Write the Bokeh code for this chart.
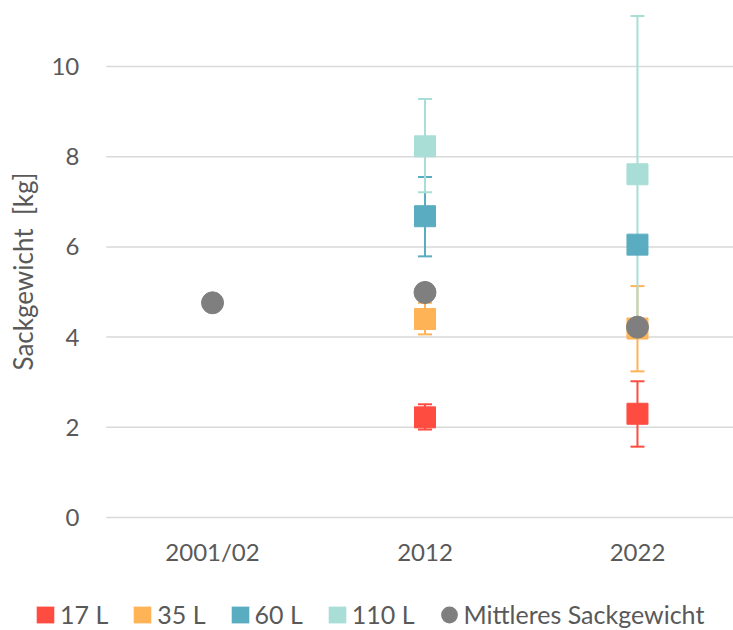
import math
from bokeh.plotting import figure
from bokeh.models import Range1d, FixedTicker, Legend, LegendItem
from bokeh.embed import file_html
from bokeh.resources import INLINE

nan = float("nan")

categories = ["2001/02", "2012", "2022"]
size_labels = ["17 L", "35 L", "60 L", "110 L"]
mean_label = "Mittleres Sackgewicht"
y_label = "Sackgewicht\u00a0\u00a0[kg]"

w17 = [nan, 2.22, 2.30]
w17_lo = [nan, 1.95, 1.57]
w17_hi = [nan, 2.51, 3.02]
w35 = [nan, 4.40, 4.19]
w35_lo = [nan, 4.06, 3.24]
w35_hi = [nan, 4.76, 5.13]
w60 = [nan, 6.68, 6.05]
w60_lo = [nan, 5.79, nan]
w60_hi = [nan, 7.55, nan]
w110 = [nan, 8.23, 7.61]
w110_lo = [nan, 7.21, 4.10]
w110_hi = [nan, 9.28, 11.12]
w_mean = [4.76, 4.99, 4.22]
y_ticks = [0, 2, 4, 6, 8, 10]

colors = ["#FF4C41", "#FFB357", "#5AADC1", "#A8DED6"]
mean_color = "#7F7F7F"
text_color = "#595959"
grid_color = "#D9D9D9"
FONT = "Lato"

xs = [i + 0.5 for i in range(len(categories))]
X0, X1 = -0.498, 2.952      # visible x extent (plot area starts at x = 0)
Y0, Y1 = -2.506, 11.463     # visible y extent (plot area is y >= 0)

p = figure(width=733, height=630, output_backend="svg", toolbar_location=None,
           x_range=Range1d(X0, X1), y_range=Range1d(Y0, Y1),
           min_border_left=0, min_border_right=0, min_border_top=0,
           min_border_bottom=0)
p.outline_line_color = None
p.background_fill_color = "white"
p.border_fill_color = "white"
p.grid.visible = False

p.xaxis.fixed_location = 0
p.yaxis.fixed_location = 0
p.yaxis.bounds = (0, 10.91)
p.xaxis.ticker = FixedTicker(ticks=xs)
p.xaxis.major_label_overrides = {x: c for x, c in zip(xs, categories)}
p.yaxis.ticker = FixedTicker(ticks=y_ticks)
for ax in (p.xaxis, p.yaxis):
    ax.axis_line_color = None
    ax.major_tick_line_color = None
    ax.minor_tick_line_color = None
    ax.major_tick_out = 0
    ax.major_tick_in = 0
    ax.major_label_text_font = FONT
    ax.major_label_text_font_size = "24px"
    ax.major_label_text_color = text_color
p.xaxis.major_label_standoff = 20
p.yaxis.major_label_standoff = 27
p.yaxis.axis_label = y_label
p.yaxis.axis_label_text_font = FONT
p.yaxis.axis_label_text_font_size = "26px"
p.yaxis.axis_label_text_font_style = "normal"
p.yaxis.axis_label_text_color = text_color
p.yaxis.axis_label_standoff = 10

# horizontal gridlines at the y ticks, across the plot area
p.segment(x0=[0] * len(y_ticks), x1=[X1] * len(y_ticks), y0=y_ticks, y1=y_ticks,
          line_color=grid_color, line_width=1.5)

series = [(w17, w17_lo, w17_hi), (w35, w35_lo, w35_hi),
          (w60, w60_lo, w60_hi), (w110, w110_lo, w110_hi)]

# error bars (below markers)
for (vals, lo, hi), col in zip(series, colors):
    p.segment(x0=xs, x1=xs, y0=lo, y1=hi, line_color=col, line_width=2)
    p.scatter(xs, lo, marker="dash", size=14, line_color=col, line_width=2)
    p.scatter(xs, hi, marker="dash", size=14, line_color=col, line_width=2)

for (vals, lo, hi), col in zip(series, colors):
    p.scatter(xs, vals, marker="square", size=21, fill_color=col, line_color=col)
p.scatter(xs, w_mean, marker="circle", size=22, fill_color=mean_color,
          line_color=mean_color)

# legend swatches (no visible data of their own)
items = []
for col, lab in zip(colors, size_labels):
    r = p.quad(left=[nan], right=[nan], top=[nan], bottom=[nan],
               fill_color=col, line_color=None)
    items.append(LegendItem(label=lab, renderers=[r]))
rm = p.ellipse(x=[nan], y=[nan], width=[18], height=[18],
               width_units="screen", height_units="screen",
               fill_color=mean_color, line_color=None)
items.append(LegendItem(label=mean_label, renderers=[rm]))

legend = Legend(items=items, orientation="horizontal", location=(34, 1),
                glyph_width=22, glyph_height=21, label_standoff=4, spacing=23,
                padding=0, margin=0, border_line_color=None,
                background_fill_alpha=0,
                label_text_font=FONT, label_text_font_size="25px",
                label_text_color=text_color)
p.add_layout(legend)

open("out.html", "w").write(file_html(p, INLINE))
